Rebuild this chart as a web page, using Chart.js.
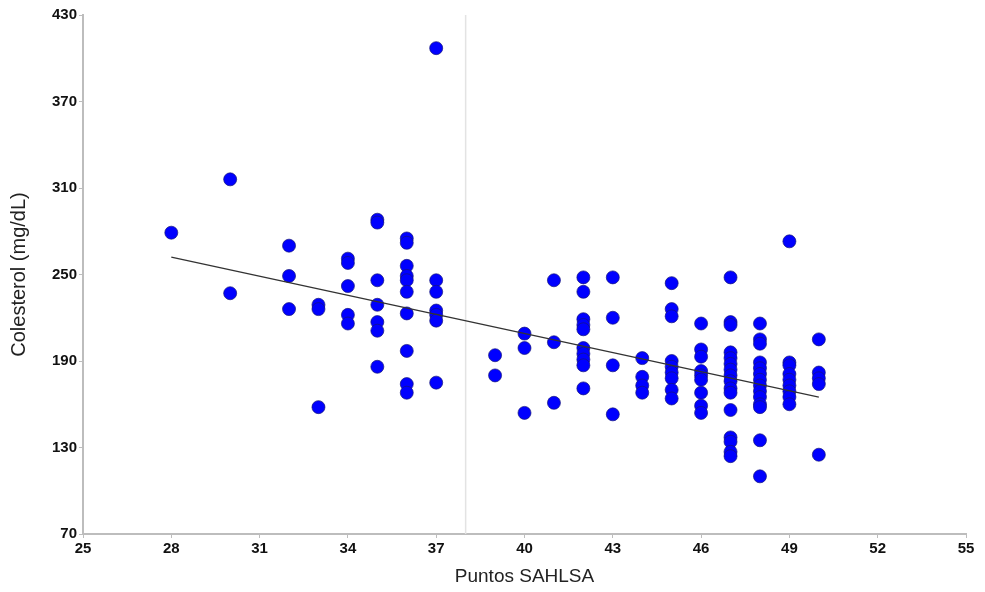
<!DOCTYPE html>
<html>
<head>
<meta charset="utf-8">
<script src="https://cdn.jsdelivr.net/npm/chart.js@4/dist/chart.umd.min.js"></script>
<style>
  html, body { margin: 0; padding: 0; background: #fff; }
  #wrap { width: 985px; height: 592px; position: relative; }
</style>
</head>
<body>
<div id="wrap"><canvas id="chart"></canvas></div>
<script>
// scatter points: puntos SAHLSA (x) vs colesterol (y)
const puntos = [
  28,
  30, 30,
  32, 32, 32,
  33, 33, 33,
  34, 34, 34, 34, 34,
  35, 35, 35, 35, 35, 35, 35,
  36, 36, 36, 36, 36, 36, 36, 36, 36, 36,
  37, 37, 37, 37, 37, 37, 37,
  39, 39,
  40, 40, 40,
  41, 41, 41,
  42, 42, 42, 42, 42, 42, 42, 42, 42, 42,
  43, 43, 43, 43,
  44, 44, 44, 44,
  45, 45, 45, 45, 45, 45, 45, 45, 45,
  46, 46, 46, 46, 46, 46, 46, 46, 46,
  47, 47, 47, 47, 47, 47, 47, 47, 47, 47, 47, 47, 47, 47, 47, 47,
  48, 48, 48, 48, 48, 48, 48, 48, 48, 48, 48, 48, 48, 48,
  49, 49, 49, 49, 49, 49, 49, 49, 49,
  50, 50, 50, 50, 50
];
const colesterol = [
  279,
  316, 237,
  270, 249, 226,
  229, 226, 158,
  261, 258, 242, 222, 216,
  288, 286, 246, 229, 217, 211, 186,
  275, 272, 256, 249, 246, 238, 223, 197, 174, 168,
  407, 246, 238, 225, 222, 218, 175,
  194, 180,
  209, 199, 154,
  246, 203, 161,
  248, 238, 219, 215, 212, 199, 195, 191, 187, 171,
  248, 220, 187, 153,
  192, 179, 173, 168,
  244, 226, 221, 190, 186, 182, 178, 170, 164,
  216, 198, 193, 183, 180, 177, 168, 159, 154,
  248, 217, 215, 196, 192, 188, 184, 180, 176, 171, 168, 156, 137, 134, 127, 124,
  216, 205, 202, 189, 185, 181, 177, 173, 169, 165, 160, 158, 135, 110,
  273, 189, 187, 181, 177, 173, 169, 165, 160,
  205, 182, 178, 174, 125
];

// fitted line endpoints
const lineX = [28, 50];
const lineY = [262, 165];

// vertical reference line
const refX = 38;

const xTicks = [25, 28, 31, 34, 37, 40, 43, 46, 49, 52, 55];
const yTicks = [70, 130, 190, 250, 310, 370, 430];

const axisGray = '#bdbdbd';
const font = 'Arial, "Liberation Sans", sans-serif';

new Chart(document.getElementById('chart'), {
  type: 'scatter',
  data: {
    datasets: [
      {
        type: 'line',
        data: [{ x: refX, y: yTicks[0] }, { x: refX, y: yTicks[yTicks.length - 1] }],
        borderColor: '#e3e3e3',
        borderWidth: 1.5,
        pointRadius: 0,
        order: 3
      },
      {
        data: puntos.map((x, i) => ({ x, y: colesterol[i] })),
        backgroundColor: '#0000ff',
        borderColor: '#16167a',
        borderWidth: 0.7,
        pointRadius: 6.5,
        pointHoverRadius: 6.5,
        order: 2
      },
      {
        type: 'line',
        data: lineX.map((x, i) => ({ x, y: lineY[i] })),
        borderColor: '#333',
        borderWidth: 1.3,
        pointRadius: 0,
        order: 1
      }
    ]
  },
  options: {
    responsive: true,
    maintainAspectRatio: false,
    animation: false,
    layout: { padding: { top: 15, right: 19, left: 0, bottom: 0 } },
    plugins: { legend: { display: false }, tooltip: { enabled: false } },
    scales: {
      x: {
        type: 'linear',
        min: xTicks[0],
        max: xTicks[xTicks.length - 1],
        afterBuildTicks: s => { s.ticks = xTicks.map(v => ({ value: v })); },
        afterFit: s => { s.height = 58; },
        border: { color: axisGray, width: 2 },
        grid: { drawOnChartArea: false, color: axisGray, tickLength: 4 },
        ticks: { color: '#111', font: { family: font, size: 15, weight: 'bold' }, padding: 2, maxRotation: 0 },
        title: { display: true, text: 'Puntos SAHLSA', color: '#222', font: { family: font, size: 19 }, padding: { top: 6 } }
      },
      y: {
        type: 'linear',
        min: yTicks[0],
        max: yTicks[yTicks.length - 1],
        afterBuildTicks: s => { s.ticks = yTicks.map(v => ({ value: v })); },
        afterFit: s => { s.width = 83; },
        border: { color: axisGray, width: 2 },
        grid: { drawOnChartArea: false, color: axisGray, tickLength: 4 },
        ticks: { color: '#111', font: { family: font, size: 15, weight: 'bold' }, padding: 2 },
        title: { display: true, text: 'Colesterol (mg/dL)', color: '#222', font: { family: font, size: 20 }, padding: { top: 7, bottom: 0 } }
      }
    }
  }
});
</script>
</body>
</html>
